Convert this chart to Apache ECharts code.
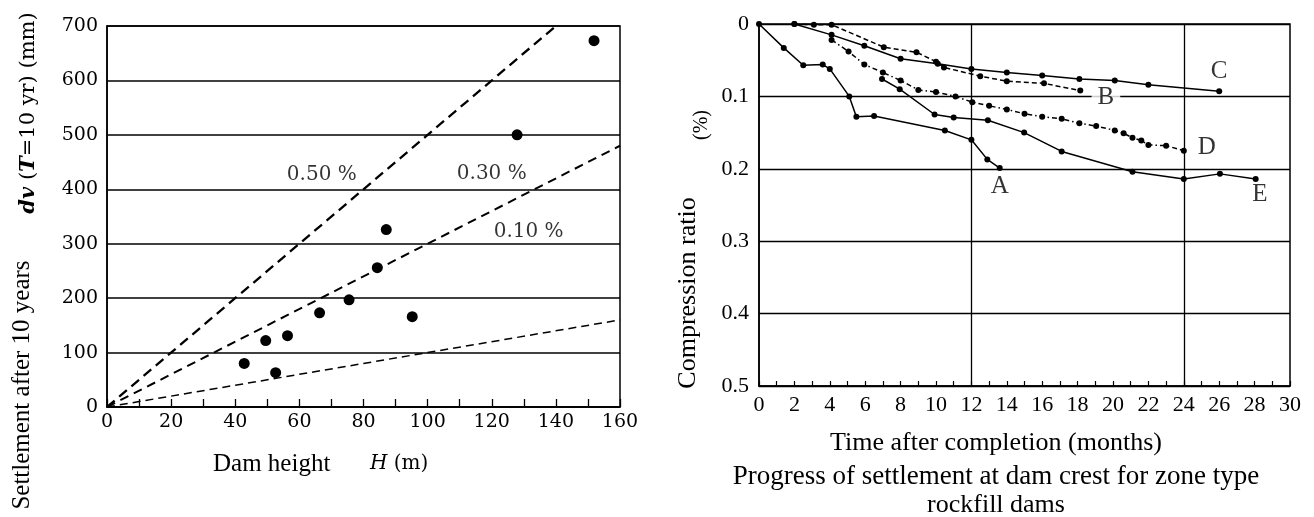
<!DOCTYPE html>
<html><head><meta charset="utf-8">
<script src="https://cdn.jsdelivr.net/npm/echarts/dist/echarts.min.js"></script>
<style>html,body{margin:0;padding:0;background:#fff}#c{width:1314px;height:517px}</style>
</head><body><div id="c"></div>
<script>
// ---------- Left chart: settlement after 10 years vs dam height ----------
const damHeights      = [42.8, 49.5, 52.6, 56.3, 66.3, 75.5, 84.3, 87.1, 95.2, 127.9, 151.9];
const settlements10yr = [80,   122,  63,   131,  173,  197,  256,  326,  166,  500,   673];
const rateNames   = ['0.50 %', '0.30 %', '0.10 %'];
const rateEndH    = [140, 160, 160];
const rateEndDv   = [700, 480, 160];
const rateLabelH  = [67, 120, 131.5];
const rateLabelDv = [427, 429, 322];

// ---------- Right chart: compression ratio vs time ----------
const monthsA = [0, 1.4, 2.5, 3.6, 4.0, 5.1, 5.5, 6.5, 10.5, 12.0, 12.9, 13.6];
const ratioA  = [0, 0.033, 0.057, 0.056, 0.062, 0.100, 0.128, 0.127, 0.147, 0.160, 0.187, 0.199];
const monthsB = [2, 3.1, 4.1, 7.05, 8.9, 10.0, 10.45, 12.5, 14.0, 16.1, 18.15];
const ratioB  = [0, 0.001, 0.001, 0.032, 0.039, 0.052, 0.060, 0.072, 0.079, 0.082, 0.092];
const monthsC = [2, 4.1, 5.95, 8.0, 10.1, 12.0, 14.0, 16.0, 18.1, 20.1, 22.0, 26.0];
const ratioC  = [0, 0.015, 0.030, 0.048, 0.055, 0.062, 0.067, 0.071, 0.076, 0.078, 0.084, 0.093];
const monthsD = [4.1, 5.06, 5.95, 7.0, 8.0, 9.0, 10.0, 11.1, 12.05, 13.0, 14.0, 15.0, 16.0, 17.1, 18.1, 19.05, 20.1, 20.6, 21.1, 21.6, 22.0, 23.0, 24.0];
const ratioD  = [0.022, 0.038, 0.056, 0.067, 0.078, 0.091, 0.094, 0.100, 0.108, 0.113, 0.118, 0.124, 0.128, 0.131, 0.137, 0.141, 0.147, 0.151, 0.157, 0.161, 0.167, 0.168, 0.175];
const monthsE = [6.95, 7.95, 9.92, 11.0, 12.93, 14.98, 17.1, 21.1, 24.0, 26.04, 28.06];
const ratioE  = [0.076, 0.090, 0.125, 0.129, 0.133, 0.150, 0.176, 0.204, 0.214, 0.207, 0.214];
const curveNames       = ['A', 'B', 'C', 'D', 'E'];
const curveLabelMonths = [13.6, 19.6, 26.0, 25.3, 28.3];
const curveLabelRatios = [0.225, 0.101, 0.066, 0.170, 0.236];
const monthGridLines   = [12, 24];

const titleLines = ['Time after completion (months)', 'Progress of settlement at dam crest for zone type', 'rockfill dams'];

const SERIF = '"Liberation Serif", "Times New Roman", serif';
const CENT = '"DejaVu Serif", serif';
const zip = (a, b) => a.map((v, i) => [v, b[i]]);

const chart = echarts.init(document.getElementById('c'), null, {renderer: 'canvas'});

const rightLine = (name, xs, ys, dash, extra) => Object.assign({
  name, type: 'line', xAxisIndex: 1, yAxisIndex: 1,
  data: zip(xs, ys), symbol: 'circle', symbolSize: 6, showSymbol: true,
  itemStyle: {color: '#000', opacity: 1}, lineStyle: {color: '#000', width: 1.5, type: dash},
  z: 5, silent: true
}, extra || {});

const option = {
  animation: false,
  backgroundColor: '#fff',
  grid: [
    {left: 107, top: 26, width: 513, height: 381, show: true, borderColor: '#000', borderWidth: 1.5, outerBoundsMode: 'none', containLabel: false},
    {left: 759, top: 24, width: 531, height: 362, show: true, borderColor: '#000', borderWidth: 1.5, outerBoundsMode: 'none', containLabel: false}
  ],
  xAxis: [
    {gridIndex: 0, type: 'value', min: 0, max: 160, interval: 20,
     axisLine: {onZero: false, lineStyle: {color: '#000', width: 1.5}},
     axisTick: {show: true, inside: true, length: 8, lineStyle: {color: '#000', width: 1.3}},
     minorTick: {show: true, splitNumber: 2, length: 8, lineStyle: {color: '#000', width: 1.3}},
     splitLine: {show: false},
     axisLabel: {color: '#000', fontFamily: CENT, fontSize: 19, margin: 6}},
    {gridIndex: 1, type: 'value', min: 0, max: 30, interval: 2, position: 'bottom',
     axisLine: {onZero: false, lineStyle: {color: '#000', width: 1.5}},
     axisTick: {show: true, inside: true, length: 5, lineStyle: {color: '#000', width: 1.2}},
     minorTick: {show: true, splitNumber: 2, length: 5, lineStyle: {color: '#000', width: 1.2}},
     splitLine: {show: false},
     axisLabel: {color: '#000', fontFamily: SERIF, fontSize: 22, margin: 8, showMaxLabel: true}}
  ],
  yAxis: [
    {gridIndex: 0, type: 'value', min: 0, max: 700, interval: 100,
     axisLine: {onZero: false, lineStyle: {color: '#000', width: 1.5}},
     axisTick: {show: false},
     splitLine: {show: true, lineStyle: {color: '#000', width: 1.5}},
     axisLabel: {color: '#000', fontFamily: CENT, fontSize: 19, margin: 9}},
    {gridIndex: 1, type: 'value', min: 0, max: 0.5, interval: 0.1, inverse: true,
     axisLine: {onZero: false, lineStyle: {color: '#000', width: 1.5}},
     axisTick: {show: false},
     splitLine: {show: true, lineStyle: {color: '#000', width: 1.3}},
     axisLabel: {color: '#000', fontFamily: SERIF, fontSize: 22, margin: 10}}
  ],
  series: [
    // rate lines (left)
    {type: 'line', xAxisIndex: 0, yAxisIndex: 0, data: [[0, 0], [rateEndH[0], rateEndDv[0]]], symbol: 'none',
     lineStyle: {color: '#000', width: 2.3, type: [10, 6]}, silent: true},
    {type: 'line', xAxisIndex: 0, yAxisIndex: 0, data: [[0, 0], [rateEndH[1], rateEndDv[1]]], symbol: 'none',
     lineStyle: {color: '#000', width: 2.0, type: [9, 6]}, silent: true},
    {type: 'line', xAxisIndex: 0, yAxisIndex: 0, data: [[0, 0], [rateEndH[2], rateEndDv[2]]], symbol: 'none',
     lineStyle: {color: '#000', width: 1.5, type: [8, 5]}, silent: true},
    // rate labels
    {type: 'scatter', xAxisIndex: 0, yAxisIndex: 0, symbolSize: 1, itemStyle: {color: 'rgba(0,0,0,0)'},
     data: rateNames.map((n, i) => ({name: n, value: [rateLabelH[i], rateLabelDv[i]]})),
     label: {show: true, position: 'inside', formatter: p => p.name, color: '#000', fontFamily: CENT, fontSize: 20}, silent: true},
    // dam points
    {type: 'scatter', xAxisIndex: 0, yAxisIndex: 0, data: zip(damHeights, settlements10yr),
     symbol: 'circle', symbolSize: 11, itemStyle: {color: '#000', opacity: 1}, silent: true, z: 6},
    // right chart curves
    rightLine('A', monthsA, ratioA, 'solid', {
      markLine: {silent: true, symbol: 'none', label: {show: false},
        lineStyle: {color: '#000', width: 1.3, type: 'solid'},
        data: monthGridLines.map(m => ({xAxis: m}))}
    }),
    rightLine('B', monthsB, ratioB, [5, 3]),
    rightLine('C', monthsC, ratioC, 'solid'),
    rightLine('D', monthsD, ratioD, [5, 3, 1.5, 3]),
    rightLine('E', monthsE, ratioE, 'solid'),
    // curve labels
    {type: 'scatter', xAxisIndex: 1, yAxisIndex: 1, symbolSize: 1, itemStyle: {color: 'rgba(0,0,0,0)'},
     data: curveNames.map((n, i) => ({name: n, value: [curveLabelMonths[i], curveLabelRatios[i]]})),
     label: {show: true, position: 'inside', formatter: p => p.name, color: '#000', fontFamily: SERIF, fontSize: 25,
             backgroundColor: '#fff', padding: [0, 6]}, silent: true, z: 10}
  ],
  graphic: [
    {type: 'text', x: 22, y: 385, rotation: Math.PI / 2,
     style: {text: 'Settlement after 10 years', font: '25px ' + SERIF, fill: '#000', align: 'center', verticalAlign: 'middle'}},
    {type: 'text', x: 29, y: 113, rotation: Math.PI / 2,
     style: {text: '{i|dv} ({i|T}=10 yr) (mm)', fill: '#000', align: 'center', verticalAlign: 'middle',
             font: '21px ' + CENT,
             rich: {i: {fontStyle: 'italic', fontWeight: 'bold', fontFamily: CENT, fontSize: 21}}}},
    {type: 'text', x: 213, y: 464,
     style: {text: 'Dam height', font: '25px ' + SERIF, fill: '#000', align: 'left', verticalAlign: 'middle'}},
    {type: 'text', x: 370, y: 464,
     style: {text: '{i|H} (m)', font: '20px ' + CENT, fill: '#000', align: 'left', verticalAlign: 'middle',
             rich: {i: {fontStyle: 'italic', fontFamily: CENT, fontSize: 20}}}},
    {type: 'text', x: 688, y: 293, rotation: Math.PI / 2,
     style: {text: 'Compression ratio', font: '26px ' + SERIF, fill: '#000', align: 'center', verticalAlign: 'middle'}},
    {type: 'text', x: 702, y: 125, rotation: Math.PI / 2,
     style: {text: '(%)', font: '20px ' + SERIF, fill: '#000', align: 'center', verticalAlign: 'middle'}},
    {type: 'text', x: 996, y: 443,
     style: {text: titleLines[0], font: '26px ' + SERIF, fill: '#000', align: 'center', verticalAlign: 'middle'}},
    {type: 'text', x: 996, y: 477,
     style: {text: titleLines[1], font: '27px ' + SERIF, fill: '#000', align: 'center', verticalAlign: 'middle'}},
    {type: 'text', x: 996, y: 505,
     style: {text: titleLines[2], font: '26px ' + SERIF, fill: '#000', align: 'center', verticalAlign: 'middle'}}
  ]
};
chart.setOption(option);
</script></body></html>
